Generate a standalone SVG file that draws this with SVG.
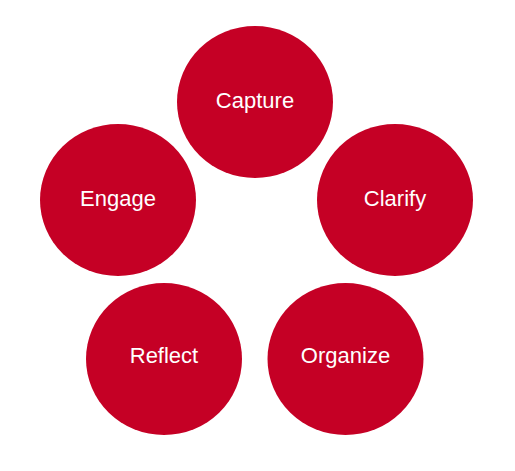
<svg xmlns="http://www.w3.org/2000/svg" width="515" height="471" viewBox="0 0 515 471">
<style>
.n{fill:#C50025}
.t{fill:#fff;font-family:"Liberation Sans",Arial,sans-serif;font-size:22px;text-anchor:middle}
</style>
<rect width="515" height="471" fill="#fff"/>
<g id="connectors"/>
<g id="capture"><ellipse class="n" cx="255" cy="102" rx="78" ry="76"/><text class="t" x="255" y="108">Capture</text></g>
<g id="clarify"><ellipse class="n" cx="395" cy="200" rx="78" ry="76"/><text class="t" x="395" y="206">Clarify</text></g>
<g id="engage"><ellipse class="n" cx="118" cy="200" rx="78" ry="76"/><text class="t" x="118" y="206">Engage</text></g>
<g id="reflect"><ellipse class="n" cx="164" cy="359" rx="78" ry="76"/><text class="t" x="164" y="363">Reflect</text></g>
<g id="organize"><ellipse class="n" cx="345.5" cy="359" rx="78" ry="76"/><text class="t" x="345.5" y="363">Organize</text></g>
</svg>
